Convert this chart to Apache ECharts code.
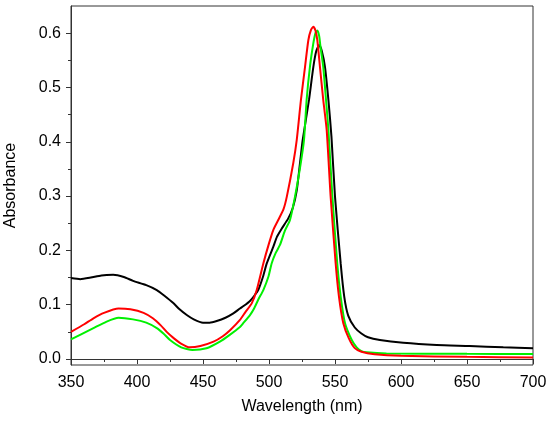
<!DOCTYPE html>
<html lang="en">
<head>
    <meta charset="utf-8" />
    <title>Absorbance spectra</title>
    <script src="https://cdn.jsdelivr.net/npm/echarts@6/dist/echarts.min.js"></script>
    <style>
        html, body { margin: 0; padding: 0; background: #fff; }
        #main { width: 550px; height: 422px; }
    </style>
</head>
<body>
<div id="main"></div>
<script>
    // [wavelength (nm), absorbance]
    var blackData = [
        [350, 0.149], [357, 0.147], [365, 0.150], [373, 0.154], [382, 0.155], [390, 0.151],
        [397, 0.144], [407, 0.136], [415, 0.127], [421, 0.116], [427.5, 0.103], [432, 0.092],
        [437.7, 0.081], [443, 0.073], [450, 0.067], [455, 0.067], [460.4, 0.070], [467, 0.076],
        [473, 0.084], [478, 0.093], [481, 0.098], [485.6, 0.107], [489, 0.117], [492, 0.128],
        [495.5, 0.152], [498.3, 0.176], [503.3, 0.207], [506, 0.225], [509.6, 0.240], [514.6, 0.259],
        [518, 0.278], [521, 0.310], [523.5, 0.361], [525.5, 0.403], [530.3, 0.477], [533.6, 0.538],
        [535.8, 0.567], [538, 0.578], [540, 0.567], [542.4, 0.538], [545, 0.477], [547.3, 0.410],
        [550, 0.299], [554.3, 0.176], [557, 0.115], [560, 0.080], [565, 0.058], [570, 0.047],
        [575, 0.040], [584, 0.035], [601.7, 0.030], [627, 0.026], [652, 0.024], [677.5, 0.0215],
        [700, 0.0197]
    ];
    var redData = [
        [350, 0.050], [360, 0.064], [367, 0.075], [375, 0.085], [386, 0.093], [395, 0.0915],
        [405, 0.085], [412, 0.075], [418, 0.062], [422.5, 0.050], [428, 0.038], [433, 0.029],
        [440, 0.0215], [448, 0.024], [458, 0.032], [465, 0.042], [470.5, 0.053], [478, 0.072],
        [482, 0.086], [487, 0.103], [490.7, 0.127], [495.7, 0.176], [500, 0.213], [503.3, 0.238],
        [507, 0.256], [511, 0.276], [513.5, 0.299], [518.4, 0.361], [521, 0.403], [524.2, 0.477],
        [527.3, 0.538], [529.8, 0.587], [531.8, 0.606], [533.6, 0.612], [535.2, 0.605], [536.6, 0.587],
        [538.6, 0.538], [541.1, 0.477], [543.7, 0.422], [546.7, 0.299], [550.5, 0.176], [553, 0.115],
        [556.3, 0.066], [560.5, 0.038], [565, 0.020], [570, 0.0135], [580, 0.009], [600, 0.006],
        [650, 0.004], [700, 0.003]
    ];
    var greenData = [
        [350, 0.036], [358, 0.046], [367, 0.057], [377, 0.069], [386, 0.076], [397, 0.073],
        [407, 0.067], [415, 0.057], [420, 0.047], [425, 0.035], [433.5, 0.0215], [442, 0.0165],
        [452.6, 0.0197], [462.8, 0.032], [470, 0.044], [478, 0.059], [480.5, 0.066], [485.6, 0.081],
        [488.5, 0.092], [492, 0.110], [495.7, 0.127], [499.6, 0.152], [502, 0.176], [505, 0.195],
        [508.3, 0.210], [512, 0.236], [515.9, 0.256], [519.7, 0.299], [523.5, 0.352], [526.5, 0.403],
        [528.5, 0.477], [531, 0.538], [533.5, 0.580], [535.2, 0.600], [536.6, 0.605], [538, 0.595],
        [539, 0.575], [541.1, 0.538], [543.2, 0.477], [545, 0.422], [548, 0.299], [551.7, 0.176],
        [554.3, 0.115], [557.6, 0.066], [562.7, 0.035], [566.4, 0.0215], [570, 0.0147], [574, 0.0125],
        [589, 0.0104], [650, 0.0095], [700, 0.0092]
    ];
    var yTickValues = [0, 0.1, 0.2, 0.3, 0.4, 0.5, 0.6];
    var yMinorValues = [0.05, 0.15, 0.25, 0.35, 0.45, 0.55];

    var fontFamily = '"Liberation Sans", Arial, sans-serif';
    var axisColor = '#333';

    var myChart = echarts.init(document.getElementById('main'), null, {renderer: 'canvas'});

    var option = {
        animation: false,
        backgroundColor: '#fff',
        grid: {
            left: 71,
            right: 17,
            top: 6,
            bottom: 57,
            outerBoundsMode: 'none',
            containLabel: false,
            show: true,
            borderColor: axisColor,
            borderWidth: 1
        },
        xAxis: {
            type: 'value',
            min: 350,
            max: 700,
            interval: 50,
            name: 'Wavelength (nm)',
            nameLocation: 'middle',
            nameGap: 34,
            nameTextStyle: {color: '#000', fontSize: 16, fontFamily: fontFamily},
            axisLine: {show: true, lineStyle: {color: axisColor, width: 1}},
            axisTick: {show: true, inside: false, length: 5, lineStyle: {color: axisColor}},
            minorTick: {show: true, splitNumber: 2, length: 3, lineStyle: {color: axisColor}},
            axisLabel: {color: '#000', fontSize: 16, fontFamily: fontFamily, margin: 10},
            splitLine: {show: false}
        },
        yAxis: [
            {
                type: 'value',
                min: -0.011,
                max: 0.65,
                name: 'Absorbance',
                nameLocation: 'middle',
                nameGap: 52,
                nameTextStyle: {color: '#000', fontSize: 16, fontFamily: fontFamily},
                axisLine: {show: true, onZero: false, lineStyle: {color: axisColor, width: 1}},
                axisTick: {show: true, inside: false, length: 5, customValues: yTickValues,
                    lineStyle: {color: axisColor}},
                axisLabel: {
                    color: '#000', fontSize: 16, fontFamily: fontFamily, margin: 10,
                    customValues: yTickValues,
                    formatter: function (v) { return v.toFixed(1); }
                },
                splitLine: {show: false}
            },
            {
                type: 'value',
                min: -0.011,
                max: 0.65,
                position: 'left',
                axisLine: {show: false},
                axisTick: {show: true, inside: false, length: 3, customValues: yMinorValues,
                    lineStyle: {color: axisColor}},
                axisLabel: {show: false, customValues: yMinorValues},
                splitLine: {show: false}
            }
        ],
        series: [
            {
                name: 'black',
                type: 'line',
                data: blackData,
                smooth: 0.2,
                showSymbol: false,
                lineStyle: {color: '#000000', width: 2}
            },
            {
                name: 'green',
                type: 'line',
                data: greenData,
                smooth: 0.2,
                showSymbol: false,
                lineStyle: {color: '#00f000', width: 2}
            },
            {
                name: 'red',
                type: 'line',
                data: redData,
                smooth: 0.2,
                showSymbol: false,
                lineStyle: {color: '#ff0000', width: 2}
            }
        ]
    };

    myChart.setOption(option);
</script>
</body>
</html>
